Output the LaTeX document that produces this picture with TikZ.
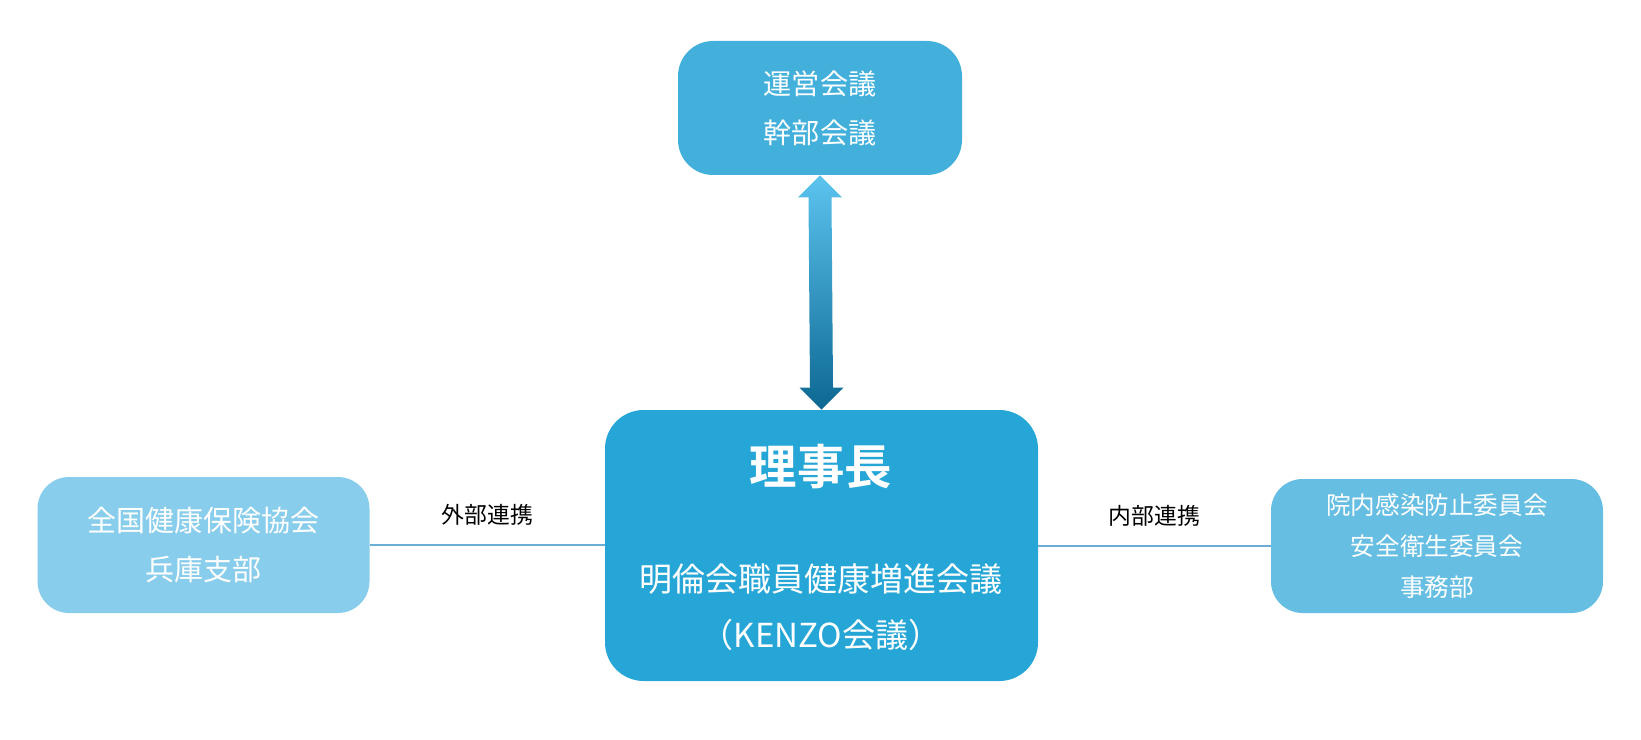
\documentclass[tikz,border=0pt]{standalone}
\usepackage{fontspec}
\setmainfont{Noto Sans CJK JP}[BoldFont={Noto Sans CJK JP Bold}]
\usetikzlibrary{calc}
\definecolor{boxtop}{HTML}{42B0DB}
\definecolor{boxmain}{HTML}{26A6D7}
\definecolor{boxleft}{HTML}{88CDEB}
\definecolor{boxright}{HTML}{66BEE2}
\definecolor{linkline}{HTML}{6AAED6}
\definecolor{arrowlight}{HTML}{5CC4EF}
\definecolor{arrowmid}{HTML}{1DA0D6}
\definecolor{arrowdark}{HTML}{0C6893}
\tikzset{
	unit/.style={rounded corners=#1, text=white, align=center, inner sep=0pt},
	linklabel/.style={font=\fontsize{13}{15}\selectfont, text=black}
}
\begin{document}
\begin{tikzpicture}[x=0.02cm, y=-0.02cm]
		\useasboundingbox (0, 0) rectangle (1641, 740);
		%boxes
		\node[unit=20pt, fill=boxtop, minimum width=284*0.02cm, minimum height=134*0.02cm,
			font=\fontsize{16}{28}\selectfont] (kaigi) at (820, 108) {運営会議\\幹部会議};
		\node[unit=22pt, fill=boxmain, minimum width=433*0.02cm, minimum height=271*0.02cm] (rijicho) at (821.5, 545.5) {};
		\node[unit=18pt, fill=boxleft, minimum width=332*0.02cm, minimum height=136*0.02cm,
			font=\fontsize{16.5}{27.5}\selectfont] (kyokai) at (203.5, 545) {全国健康保険協会\\兵庫支部};
		\node[unit=18pt, fill=boxright, minimum width=332*0.02cm, minimum height=134*0.02cm,
			font=\fontsize{14}{23.5}\selectfont] (naibu) at (1437, 546) {院内感染防止委員会\\安全衛生委員会\\事務部};
		%center texts
		\node[text=white, font=\bfseries\fontsize{27}{30}\selectfont] (title) at (821, 467) {理事長};
		\node[text=white, font=\fontsize{18.8}{22}\selectfont] (meirin) at (821, 579) {明倫会職員健康増進会議};
		\node[text=white, font=\fontsize{18.8}{22}\selectfont] (kenzo) at (821, 635) {（KENZO会議）};
		%links
		\draw[linkline, line width=1.2pt] (kyokai.east |- 0, 545) -- (rijicho.west |- 0, 545)
			node[linklabel, midway, above=7pt] (gaibulabel) {外部連携};
		\draw[linkline, line width=1.2pt] (rijicho.east |- 0, 546) -- (naibu.west |- 0, 546)
			node[linklabel, midway, above=7pt] (naibulabel) {内部連携};
		%double arrow
		\coordinate (atop) at (kaigi.south);
		\coordinate (abot) at (rijicho.north);
		\shade[top color=arrowlight, middle color=arrowmid, bottom color=arrowdark]
			(atop) -- ($(atop)+(22, 22)$) -- ($(atop)+(11.5, 22)$) -- ($(abot)+(11.5, -22)$)
			-- ($(abot)+(22, -22)$) -- (abot) -- ($(abot)+(-22, -22)$) -- ($(abot)+(-11.5, -22)$)
			-- ($(atop)+(-11.5, 22)$) -- ($(atop)+(-22, 22)$) -- cycle;
		\end{tikzpicture}
\end{document}
